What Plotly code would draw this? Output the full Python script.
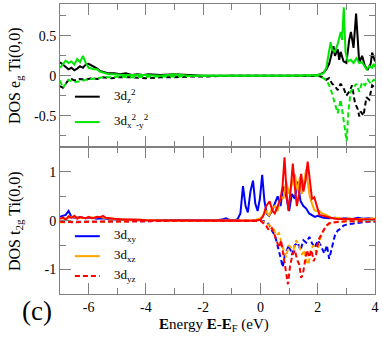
import plotly.graph_objects as go

# ---------------- data: top panel (e_g) ----------------
E_z2_up = [-7.0,-6.9,-6.8,-6.7,-6.6,-6.5,-6.4,-6.3,-6.2,-6.1,-6.0,-5.9,-5.8,-5.7,-5.6,-5.5,-5.3,-5.1,-4.9,-4.7,-4.5,-4.3,-4.1,-3.9,-3.5,-3.0,-2.5,-2.0,-1.0,0.0,1.0,1.8,2.0,2.1,2.2,2.3,2.4,2.5,2.55,2.6,2.7,2.75,2.8,2.9,3.0,3.1,3.16,3.25,3.34,3.45,3.55,3.65,3.75,3.85,3.9,4.0]
V_z2_up = [0.17,0.14,0.12,0.08,0.10,0.07,0.09,0.12,0.10,0.14,0.15,0.13,0.12,0.09,0.06,0.05,0.03,0.03,0.02,0.03,0.01,0.02,0.01,0.02,0.01,0.02,0.01,0.0,0.0,0.0,0.0,0.0,0.01,0.02,0.04,0.08,0.15,0.30,0.37,0.25,0.33,0.2,0.3,0.18,0.16,0.45,0.55,0.35,0.78,0.16,0.25,0.12,0.08,0.15,0.29,0.18]

E_x2y2_up = [-7.0,-6.9,-6.8,-6.7,-6.6,-6.5,-6.4,-6.3,-6.2,-6.1,-6.0,-5.9,-5.8,-5.7,-5.6,-5.5,-5.3,-5.1,-4.8,-4.5,-4.0,-3.5,-3.0,-2.5,-2.0,-1.0,0.0,1.0,2.0,2.2,2.3,2.4,2.45,2.5,2.6,2.7,2.8,2.85,2.91,2.97,3.05,3.15,3.25,3.35,3.45,3.55,3.7,3.8,3.9,3.95,4.0]
V_x2y2_up = [0.10,0.14,0.19,0.16,0.18,0.14,0.21,0.17,0.25,0.16,0.10,0.09,0.08,0.08,0.05,0.04,0.02,0.02,0.01,0.01,0.01,0.0,0.02,0.0,0.0,0.0,0.0,0.0,0.01,0.03,0.1,0.35,0.42,0.33,0.3,0.4,0.55,0.45,0.86,0.3,0.18,0.2,0.16,0.22,0.16,0.17,0.08,0.12,0.1,0.15,0.11]

E_z2_dn = [-7.0,-6.9,-6.8,-6.7,-6.6,-6.5,-6.3,-6.1,-5.9,-5.7,-5.5,-5.2,-5.0,-4.5,-4.0,-3.5,-3.0,-2.5,-2.0,-1.0,0.0,1.0,2.0,2.2,2.3,2.4,2.5,2.6,2.7,2.8,2.9,3.0,3.1,3.2,3.3,3.4,3.45,3.5,3.6,3.7,3.8,3.9,4.0]
V_z2_dn = [-0.13,-0.15,-0.1,-0.05,-0.04,-0.06,-0.04,-0.05,-0.03,-0.04,-0.02,-0.03,-0.02,-0.02,-0.03,-0.02,-0.02,-0.01,-0.01,0,0,0,0,-0.02,-0.05,-0.03,-0.1,-0.13,-0.18,-0.1,-0.15,-0.25,-0.2,-0.12,-0.34,-0.42,-0.51,-0.45,-0.5,-0.27,-0.3,-0.12,-0.15]

E_x2y2_dn = [-7.0,-6.9,-6.8,-6.7,-6.6,-6.5,-6.3,-6.1,-5.9,-5.7,-5.5,-5.2,-5.0,-4.5,-4.0,-3.5,-3.0,-2.0,-1.0,0.0,1.0,2.0,2.2,2.3,2.4,2.5,2.6,2.7,2.8,2.9,2.95,3.01,3.07,3.15,3.25,3.35,3.45,3.55,3.65,3.75,3.85,3.95,4.0]
V_x2y2_dn = [-0.06,-0.15,-0.1,-0.05,-0.07,-0.08,-0.07,-0.05,-0.04,-0.03,-0.02,-0.02,-0.01,-0.02,-0.01,-0.01,-0.01,0,0,0,0,0,-0.03,-0.06,-0.12,-0.22,-0.35,-0.47,-0.3,-0.55,-0.65,-0.82,-0.45,-0.2,-0.15,-0.1,-0.2,-0.08,-0.12,-0.05,-0.1,-0.05,-0.06]

# ---------------- data: bottom panel (t_2g) ----------------
E_xy_up = [-7.0,-6.9,-6.8,-6.7,-6.6,-6.5,-6.3,-6.1,-5.9,-5.7,-5.5,-5.3,-5.0,-4.7,-4.4,-4.0,-3.5,-3.0,-2.5,-2.0,-1.5,-1.3,-1.2,-1.1,-0.9,-0.8,-0.7,-0.61,-0.52,-0.44,-0.35,-0.26,-0.18,-0.1,-0.02,0.06,0.14,0.22,0.3,0.4,0.5,0.6,0.7,0.8,0.9,1.0,1.1,1.2,1.3,1.4,1.5,1.6,1.7,1.8,1.9,2.0,2.2,2.4,2.6,2.8,3.0,3.2,3.4,3.6,3.8,4.0]
V_xy_up = [0.08,0.1,0.12,0.2,0.08,0.06,0.07,0.05,0.06,0.04,0.05,0.03,0.02,0.02,0.01,0.01,0.01,0.0,0.0,0.0,0.01,0.03,0.05,0.02,0.01,0.03,0.15,0.71,0.3,0.17,0.6,0.82,0.35,0.2,0.45,0.94,0.4,0.15,0.1,0.2,0.35,0.5,0.3,0.7,0.5,0.2,0.55,0.45,0.8,0.4,0.3,0.25,0.15,0.12,0.08,0.1,0.06,0.05,0.06,0.04,0.05,0.03,0.06,0.04,0.05,0.03]

E_xz_up = [-7.0,-6.8,-6.6,-6.4,-6.2,-6.0,-5.8,-5.6,-5.4,-5.2,-5.0,-4.7,-4.4,-4.0,-3.0,-2.0,-1.0,-0.2,0.0,0.1,0.2,0.3,0.4,0.5,0.6,0.7,0.8,0.9,1.0,1.1,1.2,1.3,1.38,1.45,1.52,1.6,1.65,1.72,1.8,1.88,1.95,2.06,2.15,2.3,2.4,2.5,2.7,2.9,3.1,3.3,3.5,3.7,3.9,4.0]
V_xz_up = [0.05,0.04,0.08,0.06,0.05,0.07,0.06,0.08,0.05,0.04,0.03,0.02,0.02,0.01,0.0,0.0,0.0,0.01,0.05,0.12,0.19,0.1,0.25,0.3,0.2,0.5,0.45,0.8,0.55,0.75,0.95,0.6,0.9,0.55,0.8,1.06,0.8,0.5,0.35,0.22,0.2,0.2,0.15,0.12,0.08,0.05,0.06,0.03,0.05,0.02,0.04,0.03,0.05,0.04]

E_yz_up = [-7.0,-6.9,-6.8,-6.7,-6.6,-6.5,-6.4,-6.3,-6.2,-6.1,-6.0,-5.9,-5.8,-5.7,-5.6,-5.5,-5.4,-5.3,-5.1,-4.9,-4.7,-4.5,-4.2,-4.0,-3.5,-3.0,-2.0,-1.0,-0.2,0.0,0.1,0.2,0.32,0.42,0.5,0.6,0.7,0.77,0.84,0.92,0.98,1.05,1.13,1.2,1.27,1.35,1.42,1.5,1.58,1.65,1.72,1.8,1.88,1.96,2.06,2.2,2.3,2.4,2.53,2.7,2.9,3.1,3.3,3.5,3.7,3.9,4.0]
V_yz_up = [0.04,0.07,0.02,0.09,0.06,0.1,0.04,0.08,0.06,0.05,0.08,0.05,0.06,0.08,0.07,0.1,0.06,0.05,0.04,0.03,0.03,0.02,0.02,0.01,0.01,0.0,0.0,0.0,0.0,0.02,0.1,0.3,0.4,0.2,0.15,0.3,0.45,0.7,1.3,0.5,0.2,0.6,1.17,0.7,0.3,0.55,0.96,0.6,0.85,1.21,0.9,0.45,0.48,0.3,0.12,0.1,0.08,0.06,0.05,0.03,0.04,0.03,0.04,0.02,0.03,0.02,0.03]

E_xy_dn = [-7.0,-6.5,-6.0,-5.5,-5.0,-4.0,-3.0,-2.0,-1.0,0.0,0.2,0.3,0.4,0.5,0.55,0.62,0.7,0.78,0.85,0.92,1.0,1.1,1.2,1.3,1.4,1.5,1.6,1.71,1.8,1.9,2.0,2.1,2.23,2.32,2.4,2.5,2.6,2.7,2.8,2.9,3.0,3.2,3.4,3.6,3.8,4.0]
V_xy_dn = [-0.02,-0.02,-0.03,-0.02,-0.01,-0.01,0,0,0,0,-0.02,-0.08,-0.2,-0.3,-0.4,-0.55,-0.75,-0.95,-0.7,-0.6,-0.5,-0.7,-0.5,-0.45,-0.6,-0.4,-0.45,-0.33,-0.46,-0.55,-0.4,-0.5,-0.67,-0.5,-0.78,-0.54,-0.3,-0.2,-0.16,-0.1,-0.08,-0.06,-0.04,-0.03,-0.02,-0.02]

E_xz_dn = [-7.0,-6.0,-5.0,-4.0,-3.0,-2.0,-1.0,0.0,0.2,0.35,0.45,0.55,0.65,0.75,0.82,0.9,0.98,1.05,1.15,1.25,1.35,1.45,1.52,1.6,1.68,1.75,1.85,1.95,2.0,2.1,2.2,2.3,2.4,2.6,2.8,3.0,3.5,4.0]
V_xz_dn = [-0.03,-0.02,-0.01,-0.01,0,0,0,0,-0.05,-0.1,-0.15,-0.3,-0.25,-0.5,-0.6,-0.75,-0.5,-0.55,-0.6,-0.4,-0.5,-0.7,-0.6,-0.82,-0.9,-0.6,-0.5,-0.65,-0.6,-0.35,-0.2,-0.12,-0.06,-0.03,-0.02,-0.01,-0.01,-0.01]

E_yz_dn = [-7.0,-6.5,-6.0,-5.5,-5.0,-4.0,-3.0,-2.0,-1.0,0.0,0.1,0.2,0.3,0.4,0.5,0.58,0.65,0.72,0.8,0.88,0.96,1.04,1.12,1.2,1.28,1.36,1.42,1.48,1.55,1.62,1.7,1.78,1.86,1.94,2.02,2.1,2.2,2.3,2.4,2.6,2.8,3.0,3.5,4.0]
V_yz_dn = [-0.02,-0.03,-0.02,-0.02,-0.01,-0.01,0,0,0,0,-0.05,-0.1,-0.2,-0.15,-0.3,-0.45,-0.55,-0.4,-0.7,-1.0,-1.3,-0.9,-0.7,-0.6,-0.8,-0.9,-1.17,-1.1,-0.8,-0.6,-0.75,-0.6,-0.83,-0.7,-0.4,-0.3,-0.2,-0.1,-0.05,-0.03,-0.02,-0.01,-0.01,-0.01]

X_TICKS = [-6, -4, -2, 0, 2, 4]
X_TICK_TEXT = ["-6", "-4", "-2", "0", "2", "4"]
Y1_TICKS = [-0.5, 0, 0.5]
Y1_TICK_TEXT = ["-0.5", "0", "0.5"]
Y2_TICKS = [-1, 0, 1]
Y2_TICK_TEXT = ["-1", "0", "1"]

BLACK = "#000000"
GREEN = "#00e600"
BLUE = "#0000ff"
ORANGE = "#ffa500"
RED = "#ff0000"
DASH = "5px,3px"
LW = 2

fig = go.Figure()

def add(E, V, color, dash, ax):
    fig.add_trace(go.Scatter(x=E, y=V, mode="lines",
                             line=dict(color=color, width=LW, dash=dash),
                             xaxis="x" if ax == 1 else "x2",
                             yaxis="y" if ax == 1 else "y2",
                             showlegend=False, hoverinfo="skip"))

add(E_z2_dn, V_z2_dn, BLACK, DASH, 1)
add(E_z2_up, V_z2_up, BLACK, "solid", 1)
add(E_x2y2_dn, V_x2y2_dn, GREEN, DASH, 1)
add(E_x2y2_up, V_x2y2_up, GREEN, "solid", 1)

add(E_xy_dn, V_xy_dn, BLUE, DASH, 2)
add(E_xy_up, V_xy_up, BLUE, "solid", 2)
add(E_xz_dn, V_xz_dn, ORANGE, DASH, 2)
add(E_xz_up, V_xz_up, ORANGE, "solid", 2)
add(E_yz_dn, V_yz_dn, RED, DASH, 2)
add(E_yz_up, V_yz_up, RED, "solid", 2)

AX = "#808080"
FONT = "Liberation Serif"
SPLIT = 0.5052

common_x = dict(range=[-7, 4], tickvals=X_TICKS, ticktext=X_TICK_TEXT,
                ticks="inside", ticklen=11, tickwidth=1, tickcolor=AX,
                showline=True, linecolor=AX, linewidth=1, mirror="ticks",
                showgrid=False, zeroline=False,
                minor=dict(dtick=1, tick0=0, ticks="inside", ticklen=6, tickcolor=AX, showgrid=False),
                tickfont=dict(family=FONT, size=14, color="black"))
common_y = dict(ticks="inside", ticklen=11, tickwidth=1, tickcolor=AX,
                showline=True, linecolor=AX, linewidth=1, mirror="ticks",
                showgrid=False, zeroline=False,
                tickfont=dict(family=FONT, size=14, color="black"))

fig.update_layout(
    width=382, height=338,
    margin=dict(l=60, r=5, t=3, b=44),
    paper_bgcolor="white", plot_bgcolor="white",
    xaxis=dict(common_x, anchor="y", showticklabels=False, matches="x2"),
    xaxis2=dict(common_x, anchor="y2"),
    yaxis=dict(common_y, domain=[SPLIT, 1], anchor="x", range=[-0.9, 0.9],
               tickvals=Y1_TICKS, ticktext=Y1_TICK_TEXT,
               minor=dict(dtick=0.25, tick0=0, ticks="inside", ticklen=6, tickcolor=AX, showgrid=False)),
    yaxis2=dict(common_y, domain=[0, SPLIT], anchor="x2", range=[-1.5, 1.5],
                tickvals=Y2_TICKS, ticktext=Y2_TICK_TEXT,
                minor=dict(dtick=0.5, tick0=0, ticks="inside", ticklen=6, tickcolor=AX, showgrid=False)),
    font=dict(family=FONT, color="black"),
)

def px_x(p):
    return (p - 60) / 317.0

def px_y(p):
    return (294 - p) / 291.0

# legend samples
legend_items = [
    (96, BLACK, "solid", "3d<sub>z</sub><sup>2</sup>"),
    (121.5, GREEN, "solid", "3d<sub>x</sub><sup>2</sup><sub>-y</sub><sup>2</sup>"),
    (236, BLUE, "solid", "3d<sub>xy</sub>"),
    (256, ORANGE, "solid", "3d<sub>xz</sub>"),
    (276, RED, "dash", "3d<sub>yz</sub>"),
]
for py, col, dsh, txt in legend_items:
    fig.add_shape(type="line", xref="paper", yref="paper",
                  x0=px_x(75), x1=px_x(100), y0=px_y(py), y1=px_y(py),
                  line=dict(color=col, width=LW, dash=DASH if dsh == "dash" else "solid"))
    fig.add_annotation(xref="paper", yref="paper", x=px_x(112), y=px_y(py - 1),
                       text=txt, showarrow=False, xanchor="left", yanchor="middle",
                       font=dict(family=FONT, size=13, color="black"))

fig.add_annotation(xref="paper", yref="paper", x=px_x(15), y=(SPLIT + 1) / 2,
                   text="DOS e<sub>g</sub> Ti(0,0)", textangle=-90, showarrow=False,
                   xanchor="center", yanchor="middle", font=dict(family=FONT, size=16))
fig.add_annotation(xref="paper", yref="paper", x=px_x(15), y=SPLIT / 2,
                   text="DOS t<sub>2g</sub> Ti(0,0)", textangle=-90, showarrow=False,
                   xanchor="center", yanchor="middle", font=dict(family=FONT, size=16))
fig.add_annotation(xref="paper", yref="paper", x=px_x(215), y=px_y(325),
                   text="<b>E</b>nergy <b>E</b>-<b>E</b><sub>F</sub> (eV)", showarrow=False,
                   xanchor="center", yanchor="middle", font=dict(family=FONT, size=15))
fig.add_annotation(xref="paper", yref="paper", x=px_x(37), y=px_y(311),
                   text="(c)", showarrow=False,
                   xanchor="center", yanchor="middle", font=dict(family=FONT, size=27))

fig.write_html("out.html", config={"displayModeBar": False},
               post_script="document.body.style.margin='0';document.body.style.padding='0';")
